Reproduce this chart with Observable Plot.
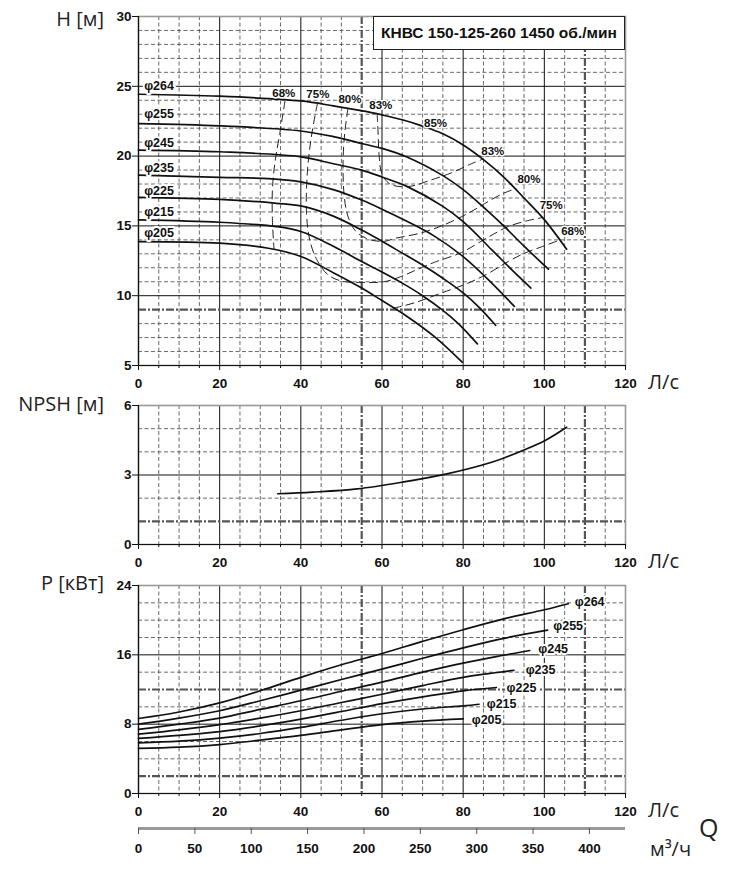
<!DOCTYPE html>
<html><head><meta charset="utf-8">
<script src="https://cdn.jsdelivr.net/npm/d3@7"></script>
<script src="https://cdn.jsdelivr.net/npm/@observablehq/plot@0.6"></script>
<style>
body{margin:0;background:#fff;}
#wrap{position:relative;width:740px;height:882px;overflow:hidden;}
.panel{position:absolute;left:0;}
.lbl{position:absolute;font-family:"Open Sans","Noto Sans",sans-serif;font-size:20px;color:#222;white-space:nowrap;line-height:1;}
.yt{text-align:right;width:110px;left:-6px;}
#title{position:absolute;left:373px;top:16px;width:252px;height:34px;box-sizing:border-box;border:1.5px solid #222;background:#fff;
font-family:"Liberation Sans",Arial,sans-serif;font-weight:bold;font-size:15.5px;color:#111;display:flex;align-items:center;justify-content:center;white-space:nowrap;}
</style></head>
<body><div id="wrap"></div>
<script>
// ---------- axis ticks & grid values ----------
const qTicks = [0, 20, 40, 60, 80, 100, 120];
const qMinorTicks = [5,10,15,25,30,35,45,50,55,65,70,75,85,90,95,105,110,115];
const qMajorGrid = [20, 40, 60, 80, 100];
const qMinorGrid = [5,10,15,25,30,35,45,50,65,70,75,85,90,95,105,115];
const qThickGrid = [55, 110];
const m3hTicks = [0, 50, 100, 150, 200, 250, 300, 350, 400];

const hTicks = [5, 10, 15, 20, 25, 30];
const hMajorGrid = [10, 15, 20, 25];
const hMinorGrid = [6,7,8,11,12,13,14,16,17,18,19,21,22,23,24,26,27,28,29];
const hThickGrid = [9];

const nTicks = [0, 3, 6];
const nMajorGrid = [3];
const nMinorGrid = [2, 4, 5];
const nThickGrid = [1];

const pTicks = [0, 8, 16, 24];
const pMajorGrid = [8, 16];
const pMinorGrid = [4, 6, 10, 14, 18, 20, 22];
const pThickGrid = [2, 12];

// ---------- series ----------
const diameters = ["φ264", "φ255", "φ245", "φ235", "φ225", "φ215", "φ205"];

// H(Q) curves [Q л/с, H м]
const head264 = [[0,24.43],[20,24.29],[40,23.95],[48,23.6],[56,23.2],[60,22.95],[65,22.6],[70,22.15],[75,21.6],[80,20.8],[85,19.75],[90,18.5],[95,17.0],[100,15.45],[105.5,13.33]];
const head255 = [[0,22.33],[20,22.17],[40,21.8],[48,21.4],[55,20.9],[60,20.55],[66,19.95],[75,18.6],[80,17.6],[85,16.35],[90,15.0],[95,13.55],[101,11.9]];
const head245 = [[0,20.43],[20,20.31],[40,19.95],[48,19.45],[55,19.0],[60,18.5],[66,17.85],[75,16.4],[80,15.3],[87,13.3],[92,11.85],[96.7,10.55]];
const head235 = [[0,18.64],[20,18.48],[32,18.38],[40,18.15],[48,17.6],[55,16.85],[60,16.2],[66,15.35],[73,14.25],[80,12.8],[86,11.2],[92.6,9.24]];
const head225 = [[0,17.05],[20,16.9],[34,16.62],[40,16.43],[48,15.7],[55,14.7],[60,13.9],[65,13.05],[70,12.2],[75,11.25],[80,10.2],[84,9.15],[88,7.88]];
const head215 = [[0,15.43],[20,15.26],[34,14.95],[40,14.6],[48,13.55],[55,12.45],[60,11.7],[65,10.9],[70,10.0],[75,8.95],[79,7.95],[83.5,6.55]];
const head205 = [[0,13.88],[20,13.76],[32,13.4],[40,12.81],[48,11.65],[55,10.55],[60,9.65],[66,8.55],[73,7.05],[79.75,5.24]];

// iso-efficiency lines [Q, H]
const eff68a = [[36.1,23.95],[34.8,21.6],[33.6,19.5],[33.0,17.6],[33.0,15.4],[33.4,13.3]];
const eff68b = [[62.8,9.1],[68.1,9.5],[74.7,10.2],[81.2,10.9],[86.2,11.6],[91.1,12.45],[95.2,13.05],[99.3,13.5],[103.5,13.95]];
const eff75 = [[44.1,23.8],[42.6,21.4],[41.6,18.8],[41.4,15.9],[42.2,14.0],[43.9,12.6],[46.7,11.5],[50,11.05],[55,10.95],[60.5,11.0],[64.5,11.35],[67.7,11.75],[73,12.4],[79.6,13.1],[86.2,14.2],[91.1,14.95],[95.5,15.35],[99.6,15.6]];
const eff80 = [[51.6,23.4],[50.8,21.6],[50.4,19.5],[50.7,17.1],[51.6,15.7],[53.3,14.7],[56.6,14.05],[60.7,13.9],[63.1,14.1],[69.7,14.5],[75.5,15.1],[81.2,15.9],[85.3,16.6],[90,17.35],[93,17.65]];
const eff83 = [[58.8,23.05],[59.0,21.9],[59.3,20.0],[59.9,18.8],[61.5,18.1],[63.5,17.85],[67.2,17.85],[72.2,18.3],[77.1,18.8],[82,19.45],[85,19.8]];

// efficiency labels [Q, H, text]
const effLabels = [[35.8,24.52,"68%"],[44.2,24.43,"75%"],[52.1,24.05,"80%"],[59.7,23.64,"83%"],[73.2,22.38,"85%"],[87.3,20.31,"83%"],[96.2,18.34,"80%"],[101.7,16.48,"75%"],[107,14.64,"68%"]];
// diameter labels on H chart [Q, H]
const headLabelPos = [[1.4,25.0],[1.4,22.98],[1.4,20.95],[1.4,19.12],[1.4,17.5],[1.4,15.98],[1.4,14.48]];

// NPSH [Q, NPSH м]
const npsh = [[34.3,2.19],[42.9,2.26],[53.9,2.4],[65,2.69],[76,3.05],[87,3.55],[94.7,4.06],[100.2,4.49],[105.5,5.06]];

// Power [Q, P кВт]
const pow264 = [[0,8.65],[10,9.4],[20,10.45],[30,11.85],[40,13.4],[50,14.85],[60,16.15],[70,17.55],[80,18.9],[90,20.15],[100,21.2],[105.9,21.9]];
const pow255 = [[0,8.0],[10,8.7],[20,9.55],[30,10.7],[40,11.92],[50,13.15],[60,14.35],[70,15.6],[80,16.8],[90,17.9],[100.8,18.85]];
const pow245 = [[0,7.4],[10,8.0],[20,8.7],[30,9.7],[40,10.7],[50,11.8],[60,12.85],[70,14.0],[80,15.05],[90,15.95],[96.4,16.5]];
const pow235 = [[0,6.85],[10,7.35],[20,7.95],[30,8.7],[40,9.55],[50,10.5],[60,11.45],[70,12.45],[80,13.4],[92.5,14.2]];
const pow225 = [[0,6.35],[10,6.7],[20,7.15],[30,7.8],[40,8.58],[50,9.46],[60,10.38],[70,11.15],[80,11.85],[88.2,12.23]];
const pow215 = [[0,5.85],[10,6.05],[20,6.4],[30,6.92],[40,7.62],[50,8.45],[60,9.2],[70,9.75],[80,10.12],[83.9,10.3]];
const pow205 = [[0,5.2],[10,5.35],[20,5.65],[30,6.15],[40,6.7],[50,7.35],[60,7.95],[70,8.35],[80,8.6]];
const powLabelPos = [[107.5,22.1],[102.2,19.3],[98.5,16.72],[95.4,14.22],[90.7,12.23],[85.8,10.29],[82.1,8.53]];

// ---------- build tables ----------
const headSeries = [head264, head255, head245, head235, head225, head215, head205];
const powSeries = [pow264, pow255, pow245, pow235, pow225, pow215, pow205];
const effSeries = [["68a", eff68a], ["68b", eff68b], ["75", eff75], ["80", eff80], ["83", eff83]];
const headRows = headSeries.flatMap((s, i) => s.map(([q, v]) => ({q, v, d: diameters[i]})));
const powRows = powSeries.flatMap((s, i) => s.map(([q, v]) => ({q, v, d: diameters[i]})));
const effRows = effSeries.flatMap(([id, s]) => s.map(([q, v]) => ({q, v, id})));
const npshRows = npsh.map(([q, v]) => ({q, v}));
const headLabels = headLabelPos.map(([q, v], i) => ({q, v, t: diameters[i]}));
const powLabels = powLabelPos.map(([q, v], i) => ({q, v, t: diameters[i]}));
const effLabelRows = effLabels.map(([q, v, t]) => ({q, v, t}));

// ---------- helpers ----------
const FONT = "'Liberation Sans', Arial, Helvetica, sans-serif";
const W = 740, ML = 138, MR = 115;
const INK = "#111";
const TICK_FS = 13.5;

function gridMarks(major, minor, thick) {
  return [
    Plot.ruleX(qMinorGrid, {stroke: "#444", strokeWidth: 0.8, strokeDasharray: "4,2.5"}),
    Plot.ruleY(minor, {stroke: "#444", strokeWidth: 0.8, strokeDasharray: "4,2.5"}),
    Plot.ruleX(qMajorGrid, {stroke: INK, strokeWidth: 1}),
    Plot.ruleY(major, {stroke: INK, strokeWidth: 1}),
    Plot.ruleX(qThickGrid, {stroke: "#555", strokeWidth: 2.2, strokeDasharray: "8,2,2,2"}),
    Plot.ruleY(thick, {stroke: "#555", strokeWidth: 2.2, strokeDasharray: "8,2,2,2"}),
    Plot.frame({stroke: "#999", strokeWidth: 1.6})
  ];
}
function axesMarks(yTicks, yMin) {
  return [
    Plot.ruleX([0], {stroke: INK, strokeWidth: 1.2}),
    Plot.ruleY([yMin], {stroke: INK, strokeWidth: 1.2}),
    Plot.axisY(yTicks, {tickSize: 6, tickPadding: 1, label: null, fontSize: TICK_FS, fontWeight: "bold"}),
    Plot.axisX(qTicks, {tickSize: 5, tickPadding: 8, label: null, fontSize: TICK_FS, fontWeight: "bold"}),
    Plot.axisX(qMinorTicks, {tickSize: 3, tickFormat: () => "", label: null})
  ];
}
const style = {fontFamily: FONT, fontSize: TICK_FS + "px", fontWeight: "bold", color: INK, background: "transparent", overflow: "visible"};

const wrap = document.getElementById("wrap");
function place(node, top) {
  const d = document.createElement("div");
  d.className = "panel";
  d.style.top = top + "px";
  d.appendChild(node);
  wrap.appendChild(d);
}

// ---------- H chart ----------
const plotH = Plot.plot({
  width: W, height: 400, marginLeft: ML, marginRight: MR, marginTop: 16, marginBottom: 35,
  style,
  x: {domain: [0, 120], label: null},
  y: {domain: [5, 30], label: null},
  marks: [
    ...gridMarks(hMajorGrid, hMinorGrid, hThickGrid),
    Plot.line(effRows, {x: "q", y: "v", z: "id", curve: "catmull-rom", stroke: "#222", strokeWidth: 1, strokeDasharray: "8,5"}),
    Plot.line(headRows, {x: "q", y: "v", z: "d", curve: "catmull-rom", stroke: INK, strokeWidth: 1.7}),
    Plot.text(headLabels, {x: "q", y: "v", text: "t", textAnchor: "start", fill: INK, stroke: "white", strokeWidth: 4, paintOrder: "stroke", fontSize: 12.5, fontWeight: "bold"}),
    Plot.text(effLabelRows, {x: "q", y: "v", text: "t", textAnchor: "middle", fill: INK, stroke: "white", strokeWidth: 3, paintOrder: "stroke", fontSize: 11.5, fontWeight: "bold"}),
    ...axesMarks(hTicks, 5)
  ]
});
place(plotH, 0);

// ---------- NPSH chart ----------
const plotN = Plot.plot({
  width: W, height: 200, marginLeft: ML, marginRight: MR, marginTop: 33, marginBottom: 28,
  style,
  x: {domain: [0, 120], label: null},
  y: {domain: [0, 6], label: null},
  marks: [
    ...gridMarks(nMajorGrid, nMinorGrid, nThickGrid),
    Plot.line(npshRows, {x: "q", y: "v", curve: "catmull-rom", stroke: INK, strokeWidth: 1.7}),
    ...axesMarks(nTicks, 0)
  ]
});
place(plotN, 372);

// ---------- Power chart ----------
const plotP = Plot.plot({
  width: W, height: 250, marginLeft: ML, marginRight: MR, marginTop: 13, marginBottom: 29,
  style,
  x: {domain: [0, 120], label: null},
  y: {domain: [0, 24], label: null},
  marks: [
    ...gridMarks(pMajorGrid, pMinorGrid, pThickGrid),
    Plot.line(powRows, {x: "q", y: "v", z: "d", curve: "catmull-rom", stroke: INK, strokeWidth: 1.7}),
    Plot.text(powLabels, {x: "q", y: "v", text: "t", textAnchor: "start", fill: INK, stroke: "white", strokeWidth: 4, paintOrder: "stroke", fontSize: 12.5, fontWeight: "bold"}),
    ...axesMarks(pTicks, 0)
  ]
});
place(plotP, 572);

// ---------- m3/h axis ----------
const plotM = Plot.plot({
  width: W, height: 50, marginLeft: ML, marginRight: MR, marginTop: 0, marginBottom: 44,
  style,
  x: {domain: [0, 432], label: null},
  y: {domain: [0, 1], axis: null},
  marks: [
    Plot.ruleY([0], {stroke: "#999", strokeWidth: 3}),
    Plot.axisX(m3hTicks, {tickSize: 6, tickPadding: 9, label: null, stroke: "#555", fontSize: TICK_FS, fontWeight: "bold"})
  ]
});
place(plotM, 822);

// ---------- HTML texts ----------
function lbl(text, left, centerY, cls, size) {
  const d = document.createElement("div");
  d.className = "lbl" + (cls ? " " + cls : "");
  d.textContent = text;
  if (left !== null) d.style.left = left + "px";
  if (size) d.style.fontSize = size + "px";
  const fs = size || 20;
  d.style.top = (centerY - fs * 0.53) + "px";
  wrap.appendChild(d);
}
lbl("H [м]", null, 20, "yt");
lbl("NPSH [м]", null, 405, "yt");
lbl("P [кВт]", null, 584, "yt");
lbl("Л/с", 648, 383);
lbl("Л/с", 648, 562);
lbl("Л/с", 648, 811);
lbl("м³/ч", 650, 850);
lbl("Q", 699, 828, null, 25);

const t = document.createElement("div");
t.id = "title";
t.textContent = "КНВС 150-125-260 1450 об./мин";
wrap.appendChild(t);
</script>
</body></html>
